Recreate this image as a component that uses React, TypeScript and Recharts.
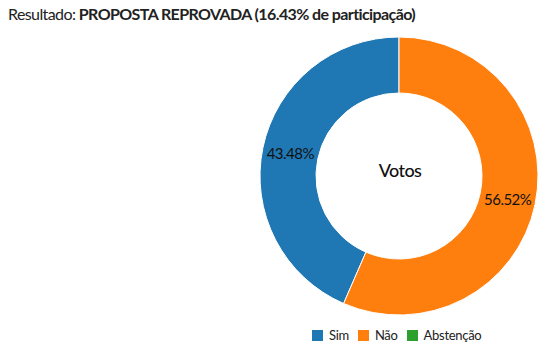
import React from 'react';
import { PieChart, Pie, Cell } from 'recharts';

const categories = ['Sim', 'Não', 'Abstenção'];
const votes = [10, 13, 0];
const colors = ['#1f77b4', '#ff7f0e', '#2ca02c'];
const participation = '16.43%';
const resultText = 'PROPOSTA REPROVADA';
const centerLabel = 'Votos';

const data = categories.map((name, i) => ({ name, value: votes[i] }));

const FONT = 'Lato, "Open Sans", sans-serif';
const RAD = Math.PI / 180;

const renderLabel = (p: any) => {
  if (!p.value) return null;
  const r = (p.innerRadius + p.outerRadius) / 2;
  const x = p.cx + r * Math.cos(-p.midAngle * RAD);
  const y = p.cy + r * Math.sin(-p.midAngle * RAD);
  return (
    <text x={x} y={y} textAnchor="middle" dominantBaseline="central" fill="#111" fontSize={15} letterSpacing={-0.5} fontFamily={FONT}>
      {(p.percent * 100).toFixed(2) + '%'}
    </text>
  );
};

export default function App() {
  return (
    <div style={{ position: 'absolute', left: 0, top: 0, width: 548, height: 359, background: '#fff' }}>
      <div style={{ position: 'absolute', left: 8, top: 4, fontFamily: FONT, fontSize: 16, letterSpacing: -0.6, color: '#222', whiteSpace: 'nowrap' }}>
        Resultado: <b>{resultText} ({participation} de participação)</b>
      </div>
      <div style={{ position: 'absolute', left: 0, top: 0 }}>
        <PieChart width={548} height={359} margin={{ top: 0, right: 0, bottom: 0, left: 0 }}>
          <Pie
            data={data}
            dataKey="value"
            nameKey="name"
            cx={399}
            cy={176}
            innerRadius={83}
            outerRadius={139}
            startAngle={90}
            endAngle={450}
            stroke="#fff"
            strokeWidth={1}
            label={renderLabel}
            labelLine={false}
            isAnimationActive={false}
          >
            {data.map((d, i) => (
              <Cell key={d.name} fill={colors[i]} />
            ))}
          </Pie>
          <text x={400} y={170} textAnchor="middle" dominantBaseline="central" fontSize={18} letterSpacing={-0.6} fontWeight={500} fontFamily={FONT} fill="#111">
            {centerLabel}
          </text>
        </PieChart>
      </div>
      <div style={{ position: 'absolute', left: 312, top: 327, display: 'flex', alignItems: 'center', fontFamily: FONT, fontSize: 13, letterSpacing: -0.3, color: '#222' }}>
        {categories.map((c, i) => (
          <div key={c} style={{ display: 'flex', alignItems: 'center', marginRight: 9 }}>
            <span style={{ display: 'inline-block', width: 11, height: 11, background: colors[i], marginRight: 6 }} />
            <span>{c}</span>
          </div>
        ))}
      </div>
    </div>
  );
}
